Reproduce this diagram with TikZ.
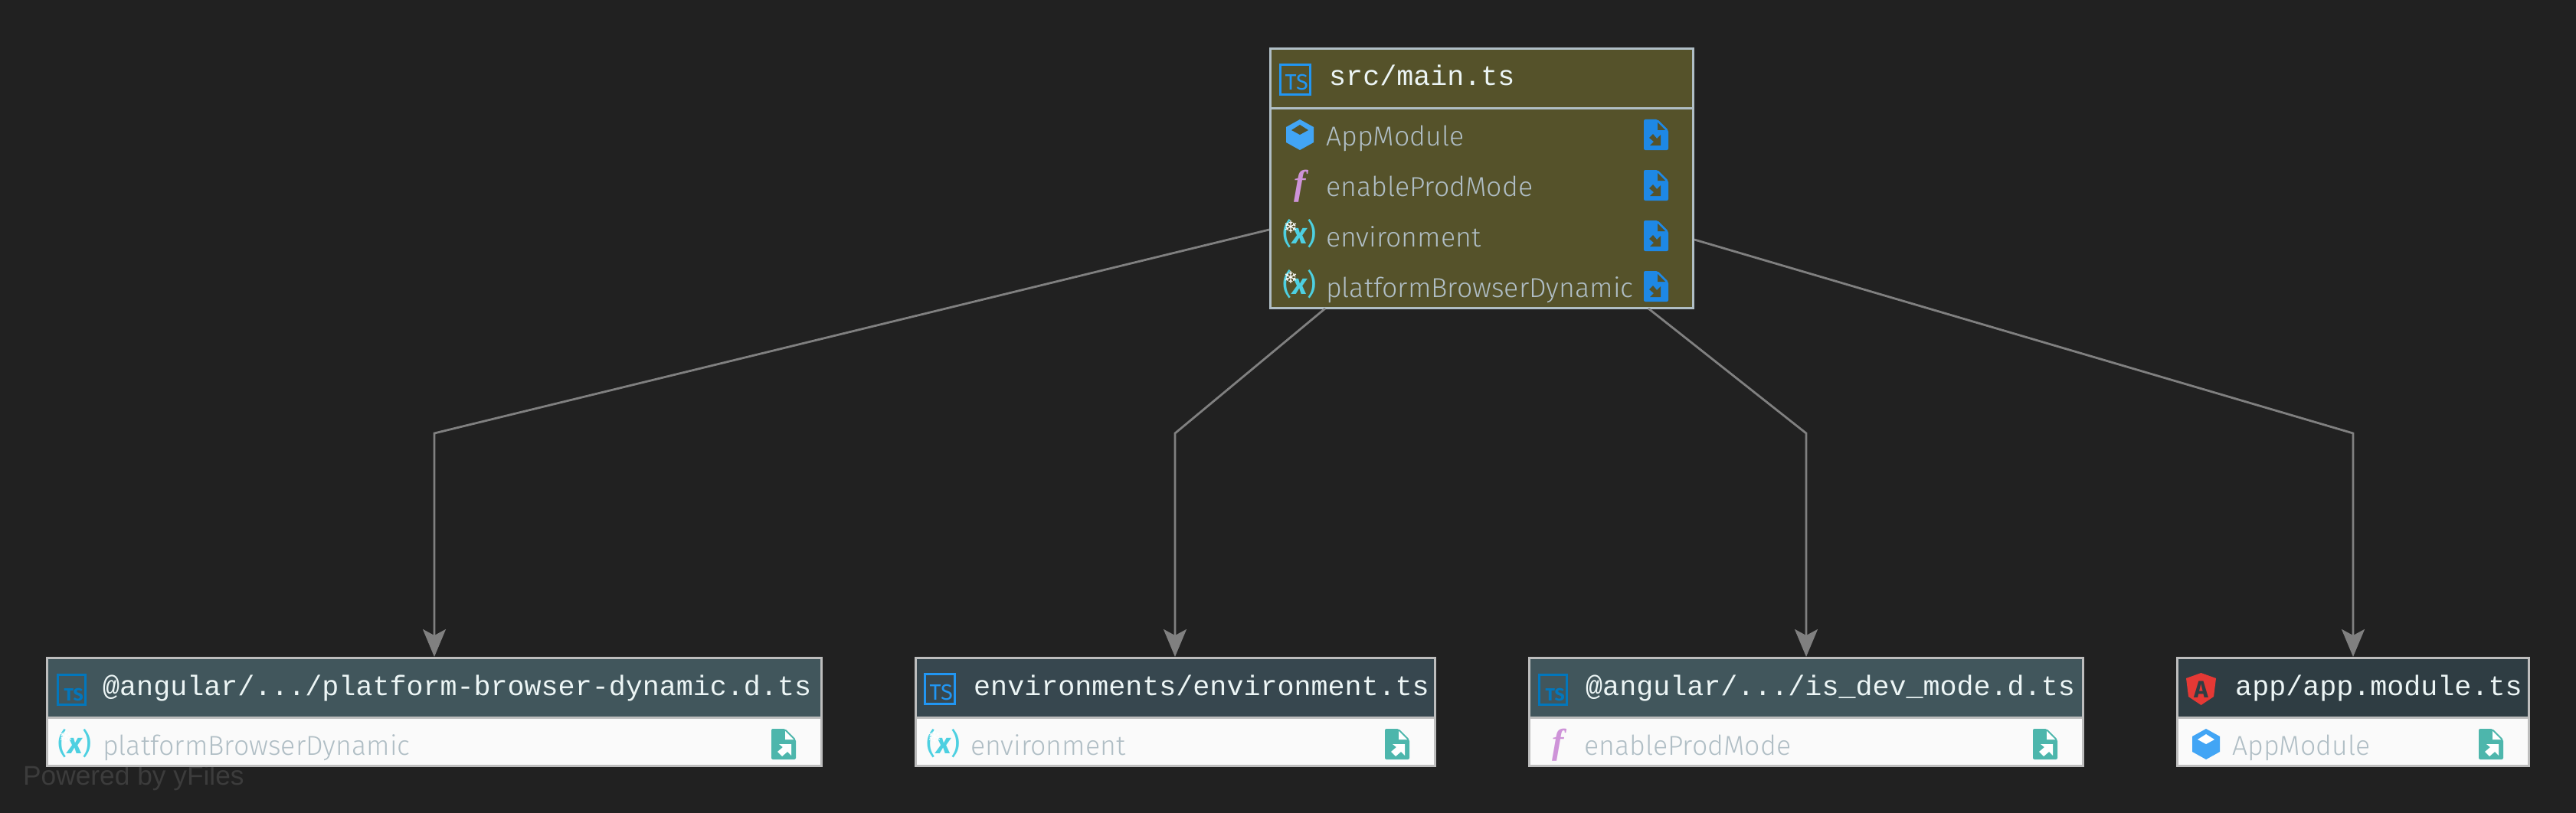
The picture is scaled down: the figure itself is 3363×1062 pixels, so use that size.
\documentclass[tikz,border=0pt]{standalone}
\usepackage{fontspec}
\usepackage{tikz}
\usetikzlibrary{arrows.meta}
\setmainfont{Fira Sans}
\newfontfamily\itemfont{Fira Sans Light}
\newfontfamily\codefont{Liberation Mono}
\newfontfamily\markfont{Liberation Sans}
\newfontfamily\flakefont{DejaVu Sans}
\newfontfamily\fnfont{Liberation Serif}
\definecolor{canvas}{HTML}{212121}
\definecolor{olive}{HTML}{55522A}
\definecolor{hdrmid}{HTML}{41565C}
\definecolor{hdrdark}{HTML}{37474F}
\definecolor{hdrdeep}{HTML}{2F3D43}
\definecolor{panel}{HTML}{FAFAFA}
\definecolor{rim}{HTML}{BDBDBD}
\definecolor{edgegray}{HTML}{808080}
\definecolor{slate}{HTML}{B0BEC5}
\definecolor{headtext}{HTML}{ECF5F5}
\definecolor{tsblue}{HTML}{2196F3}
\definecolor{tsdeep}{HTML}{0277BD}
\definecolor{cubeblue}{HTML}{42A5F5}
\definecolor{fnpurple}{HTML}{CE93D8}
\definecolor{vartint}{HTML}{4DD0E1}
\definecolor{fileblue}{HTML}{1E88E5}
\definecolor{fileteal}{HTML}{4DB6AC}
\definecolor{ngred}{HTML}{E53935}
\definecolor{markgray}{HTML}{3C3C3C}
\tikzset{
  pics/tsicon/.style n args={3}{code={
    \draw[#1, line width=3pt] (1.5,1.5) rectangle (#2-1.5,40.5);
    \node[text=#1, font=#3, inner sep=0pt, anchor=base east] (-t) at (#2-4,35) {TS};
  }},
  pics/cubeicon/.style={code={
    \fill[cubeblue] (18,0) -- (36,10) -- (36,30) -- (18,40) -- (0,30) -- (0,10) -- cycle;
    \fill[#1] (18,7) -- (29,14) -- (18,20) -- (7,14) -- cycle;
  }},
  pics/fnicon/.style={code={
    \node[text=fnpurple, font=\fnfont\bfseries\itshape\fontsize{46}{46}\selectfont, inner sep=0pt, anchor=base] (-t) at (0,0) {f};
  }},
  pics/varicon/.style={code={
    \node[text=vartint, font=\fontsize{38}{38}\selectfont, inner sep=0pt, anchor=base] (-t) at (0,0) {(\textit{\bfseries x})};
    \node[text=white, font=\flakefont\fontsize{22}{22}\selectfont, inner sep=0pt] (-f) at (-12,-22) {❄};
  }},
  pics/importicon/.style={code={
    \fill[fileblue, rounded corners=2pt] (0,0) -- (18,0) -- (32,14) -- (32,40) -- (0,40) -- cycle;
    \fill[olive] (18,4) -- (28,14) -- (18,14) -- cycle;
    \fill[olive] (22,34) -- (22,20) -- (17,25) -- (12,19) -- (7,24) -- (13,29) -- (8,34) -- cycle;
  }},
  pics/exporticon/.style={code={
    \fill[fileteal, rounded corners=2pt] (0,0) -- (18,0) -- (32,14) -- (32,40) -- (0,40) -- cycle;
    \fill[white] (18,3) -- (29,14) -- (18,14) -- cycle;
    \fill[white] (26,20) -- (26,35) -- (21,30) -- (14,36) -- (8,30) -- (15,24) -- (10,20) -- cycle;
  }},
  pics/ngicon/.style={code={
    \fill[ngred] (19.5,0) -- (39,7) -- (36,31) -- (19.5,42) -- (3,31) -- (0,7) -- cycle;
    \node[text=hdrdeep, font=\bfseries\fontsize{31}{31}\selectfont, inner sep=0pt, anchor=base] (-t) at (19.5,32) {A};
  }},
}
\begin{document}
\begin{tikzpicture}[
  x=1pt, y=-1pt,
  modbox/.style={draw=rim, line width=3pt, anchor=north west, inner sep=0pt},
  filename/.style={anchor=base west, inner sep=0pt, text=headtext, font=\codefont\fontsize{36.7}{36.7}\selectfont},
  member/.style={anchor=base west, inner sep=0pt, text=slate, font=\itemfont\fontsize{35.7}{35.7}\selectfont},
  arr/.style={-{Stealth[length=36pt,width=30pt,inset=8pt]}, draw=edgegray, line width=2.8pt},
]
\fill[canvas] (0,0) rectangle (3363,1062);
\useasboundingbox (0,0) rectangle (3363,1062);

\node[anchor=base west, inner sep=0pt, text=markgray, font=\markfont\fontsize{35.3}{35.3}\selectfont] (powered) at (30,1025) {Powered by yFiles};

% importing file
\node[modbox, draw=slate, fill=olive, minimum width=552pt, minimum height=339pt] (main) at (1657,62) {};
\node[modbox, draw=slate, fill=olive, minimum width=552pt, minimum height=78pt] (mainhead) at (1657,62) {};
\pic (mainTs) at (1670,83) {tsicon={tsblue}{42}{\fontsize{29}{29}\selectfont}};
\node[filename] (mainname) at (1735,112) {src/main.ts};
\pic (mainCube) at (1679,156) {cubeicon=olive};
\pic (mainFn) at (1697,254) {fnicon};
\pic (mainVarA) at (1697,318) {varicon};
\pic (mainVarB) at (1697,384) {varicon};
\node[member] (mainApp) at (1731,190) {AppModule};
\node[member] (mainProd) at (1731,256) {enableProdMode};
\node[member] (mainEnv) at (1731,322) {environment};
\node[member] (mainPlat) at (1731,388) {platformBrowserDynamic};
\foreach \y in {156,222,288,354} \pic at (2146,\y) {importicon};

% imported files
\node[modbox, fill=panel, minimum width=1011pt, minimum height=141pt] (platdyn) at (60,858) {};
\node[modbox, fill=hdrmid, minimum width=1011pt, minimum height=78pt] (platdynhead) at (60,858) {};
\pic (platTs) at (74,880) {tsicon={tsdeep}{39}{\bfseries\fontsize{23}{23}\selectfont}};
\node[filename] (platname) at (134,908) {@angular/.../platform-browser-dynamic.d.ts};
\pic (platVar) at (98,984) {varicon};
\node[member] (platitem) at (134,986) {platformBrowserDynamic};
\pic at (1007,952) {exporticon};

\node[modbox, fill=panel, minimum width=678pt, minimum height=141pt] (envts) at (1194,858) {};
\node[modbox, fill=hdrdark, minimum width=678pt, minimum height=78pt] (envtshead) at (1194,858) {};
\pic (envTs) at (1206,879) {tsicon={tsblue}{42}{\fontsize{29}{29}\selectfont}};
\node[filename] (envname) at (1271,908) {environments/environment.ts};
\pic (envVar) at (1232,984) {varicon};
\node[member] (envitem) at (1267,986) {environment};
\pic at (1808,952) {exporticon};

\node[modbox, fill=panel, minimum width=723pt, minimum height=141pt] (devmode) at (1995,858) {};
\node[modbox, fill=hdrmid, minimum width=723pt, minimum height=78pt] (devmodehead) at (1995,858) {};
\pic (devTs) at (2008,880) {tsicon={tsdeep}{39}{\bfseries\fontsize{23}{23}\selectfont}};
\node[filename] (devname) at (2070,908) {@angular/.../is\_dev\_mode.d.ts};
\pic (devFn) at (2034,984) {fnicon};
\node[member] (devitem) at (2068,986) {enableProdMode};
\pic at (2654,952) {exporticon};

\node[modbox, fill=panel, minimum width=459pt, minimum height=141pt] (appmod) at (2841,858) {};
\node[modbox, fill=hdrdeep, minimum width=459pt, minimum height=78pt] (appmodhead) at (2841,858) {};
\pic (appNg) at (2854,879) {ngicon};
\node[filename] (appname) at (2918,908) {app/app.module.ts};
\pic (appCube) at (2862,952) {cubeicon=white};
\node[member] (appitem) at (2914,986) {AppModule};
\pic at (3236,952) {exporticon};

\coordinate (outA) at (1657,300);
\coordinate (outB) at (1730,403);
\coordinate (outC) at (2152,403);
\coordinate (outD) at (2212,313);
\coordinate (bendA) at (567,566);
\coordinate (bendB) at (1534,566);
\coordinate (bendC) at (2358,566);
\coordinate (bendD) at (3072,566);
\draw[arr] (outA) -- (bendA) -- (platdyn.north -| bendA);
\draw[arr] (outB) -- (bendB) -- (envts.north -| bendB);
\draw[arr] (outC) -- (bendC) -- (devmode.north -| bendC);
\draw[arr] (outD) -- (bendD) -- (appmod.north -| bendD);
\end{tikzpicture}
\end{document}
